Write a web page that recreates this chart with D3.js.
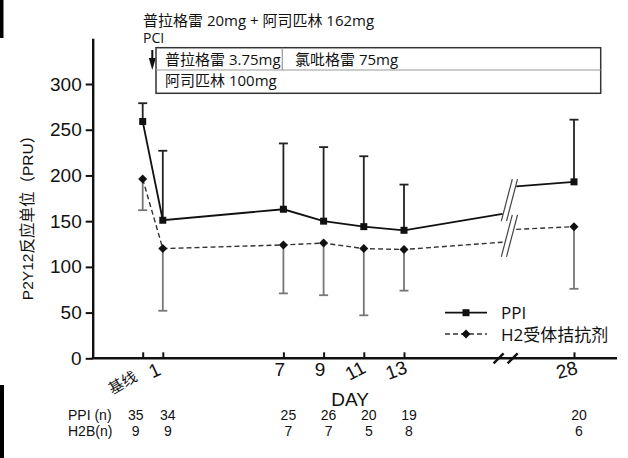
<!DOCTYPE html>
<html><head><meta charset="utf-8">
<script src="https://cdn.jsdelivr.net/npm/d3@7"></script>
<style>
html,body{margin:0;padding:0;background:#fff;}
svg{display:block;}
text{fill:#111;}
</style></head>
<body>
<svg id="chart" width="628" height="458"></svg>
<script>
// ---------- data ----------
const days = [0, 1, 7, 9, 11, 13, 28];
const dayLabels = ["基线", "1", "7", "9", "11", "13", "28"];
const ppiMean  = [259, 151, 163, 150, 144, 140, 193];
const ppiUpper = [279, 227, 235, 231, 221, 190, 261];
const h2Mean   = [196, 120, 124, 126, 120, 119, 144];
const h2Lower  = [162, 52, 71, 69, 47, 74, 76];
// values of each line where it meets the axis break (left end, right start)
const ppiBreak = [158, 188];
const h2Break  = [127, 141];
const ppiN = [35, 34, 25, 26, 20, 19, 20];
const h2bN = [9, 9, 7, 7, 5, 8, 6];
const yTicks = [0, 50, 100, 150, 200, 250, 300];
const seriesNames = ["PPI", "H2受体拮抗剂"];

// ---------- layout ----------
const svg = d3.select("#chart");
const latin = "'Liberation Sans', Arial, 'Noto Sans CJK SC', sans-serif";
const cjk = "'Open Sans', 'Noto Sans CJK SC', sans-serif";
const axisX0 = 92.7, axisXEnd = 617;
const breakStart = 21.7, breakEnd = 22.9;   // positions (in day units) of the scale break

const x = d3.scaleLinear().domain([0, 13, 28]).range([142.7, 404, 574]);
const y = d3.scaleLinear().domain([0, 350]).range([358.3, 38.3]);

// stray scan edges
svg.append("rect").attr("x", 0).attr("y", 0).attr("width", 3.5).attr("height", 38).attr("fill", "#000");
svg.append("rect").attr("x", 0).attr("y", 385).attr("width", 4).attr("height", 73).attr("fill", "#000");

// ---------- y axis ----------
const yAxis = d3.axisLeft(y).tickValues(yTicks).tickSizeInner(7).tickSizeOuter(0).tickPadding(4);
const gy = svg.append("g").attr("transform", `translate(${axisX0},0)`).call(yAxis);
gy.select(".domain").attr("stroke", "#111").attr("stroke-width", 2.4);
gy.selectAll(".tick line").attr("stroke", "#111").attr("stroke-width", 2);
gy.selectAll(".tick text").attr("font-family", latin).attr("font-size", 19).attr("fill", "#222");

svg.append("text")
  .attr("transform", "translate(33,214) rotate(-90)")
  .attr("text-anchor", "middle")
  .attr("font-family", latin).attr("font-size", 15.5).attr("fill", "#222")
  .text("P2Y12反应单位（PRU）");

// ---------- x axis ----------
const xAxis = d3.axisBottom(x).tickValues(days).tickSizeInner(-6).tickSizeOuter(0)
  .tickFormat((d, i) => dayLabels[i]);
const gx = svg.append("g").attr("transform", `translate(0,${y(0)})`).call(xAxis);
gx.select(".domain").remove();
gx.selectAll(".tick line").attr("stroke", "#111").attr("stroke-width", 2);
const rot = {0: -30, 1: -25, 7: 0, 9: 0, 11: -28, 13: -20, 28: -15};
gx.selectAll(".tick text")
  .attr("font-family", latin).attr("fill", "#222")
  .attr("font-size", d => d === 0 ? 15 : 19)
  .attr("y", null).attr("dy", null)
  .attr("text-anchor", "middle")
  .attr("transform", d => d === 0
      ? `translate(-18,29) rotate(${rot[d]})`
      : `translate(${d === 7 || d === 9 ? -4 : -6},18) rotate(${rot[d]})`);

svg.append("line").attr("x1", axisX0 - 1).attr("x2", axisXEnd).attr("y1", y(0)).attr("y2", y(0))
  .attr("stroke", "#111").attr("stroke-width", 2.4);
// axis break slashes
[x(breakStart) - 4, x(breakStart) + 10].forEach(cx => {
  svg.append("line").attr("x1", cx - 5).attr("y1", y(0) + 5).attr("x2", cx + 5).attr("y2", y(0) - 5)
    .attr("stroke", "#111").attr("stroke-width", 2.4);
});

svg.append("text").attr("x", 350).attr("y", 406).attr("text-anchor", "middle")
  .attr("font-family", latin).attr("font-size", 19).attr("fill", "#222").text("DAY");

// ---------- n rows ----------
const row1 = 420, row2 = 436;
svg.append("text").attr("x", 68).attr("y", row1).attr("font-family", latin).attr("font-size", 14).attr("fill", "#222").text("PPI (n)");
svg.append("text").attr("x", 68).attr("y", row2).attr("font-family", latin).attr("font-size", 14).attr("fill", "#222").text("H2B(n)");
const nOff = d => d === 0 ? -7 : 5;
svg.append("g").selectAll("text").data(days).join("text")
  .attr("x", (d) => x(d) + nOff(d)).attr("y", row1).attr("text-anchor", "middle")
  .attr("font-family", latin).attr("font-size", 14).attr("fill", "#222")
  .text((d, i) => ppiN[i]);
svg.append("g").selectAll("text").data(days).join("text")
  .attr("x", (d) => x(d) + nOff(d)).attr("y", row2).attr("text-anchor", "middle")
  .attr("font-family", latin).attr("font-size", 14).attr("fill", "#222")
  .text((d, i) => h2bN[i]);

// ---------- series ----------
const line = d3.line().x(d => x(d[0])).y(d => y(d[1]));
function seriesPts(mean, brk) {
  const left = days.slice(0, 6).map((d, i) => [d, mean[i]]);
  left.push([breakStart, brk[0]]);
  const right = [[breakEnd, brk[1]], [28, mean[6]]];
  return [left, right];
}
const ppiSegs = seriesPts(ppiMean, ppiBreak);
const h2Segs = seriesPts(h2Mean, h2Break);

// error bars
const cap = 4.5;
const eb = svg.append("g");
days.forEach((d, i) => {
  const cx = x(d);
  eb.append("line").attr("x1", cx).attr("x2", cx).attr("y1", y(h2Mean[i])).attr("y2", y(h2Lower[i]))
    .attr("stroke", "#777").attr("stroke-width", 1.8);
  eb.append("line").attr("x1", cx - cap).attr("x2", cx + cap).attr("y1", y(h2Lower[i])).attr("y2", y(h2Lower[i]))
    .attr("stroke", "#777").attr("stroke-width", 1.8);
  eb.append("line").attr("x1", cx).attr("x2", cx).attr("y1", y(ppiMean[i])).attr("y2", y(ppiUpper[i]))
    .attr("stroke", "#222").attr("stroke-width", 1.8);
  eb.append("line").attr("x1", cx - cap).attr("x2", cx + cap).attr("y1", y(ppiUpper[i])).attr("y2", y(ppiUpper[i]))
    .attr("stroke", "#222").attr("stroke-width", 1.8);
});

h2Segs.forEach(s => svg.append("path").attr("d", line(s)).attr("fill", "none")
  .attr("stroke", "#333").attr("stroke-width", 1.4).attr("stroke-dasharray", "5,3"));
ppiSegs.forEach(s => svg.append("path").attr("d", line(s)).attr("fill", "none")
  .attr("stroke", "#111").attr("stroke-width", 1.8));

// line break marks
function breakMarks(brk) {
  const xm = (x(breakStart) + x(breakEnd)) / 2;
  const ym = (y(brk[0]) + y(brk[1])) / 2;
  [-2.6, 2.6].forEach(o => {
    svg.append("line").attr("x1", xm + o - 5.5).attr("y1", ym + 21).attr("x2", xm + o + 5.5).attr("y2", ym - 21)
      .attr("stroke", "#444").attr("stroke-width", 1.2);
  });
}
breakMarks(ppiBreak);
breakMarks(h2Break);

const diamond = d3.symbol().type(d3.symbolDiamond2).size(52);
svg.append("g").selectAll("path").data(days).join("path")
  .attr("d", diamond).attr("transform", (d, i) => `translate(${x(d)},${y(h2Mean[i])})`)
  .attr("fill", "#111");
svg.append("g").selectAll("rect").data(days).join("rect")
  .attr("x", d => x(d) - 3.5).attr("y", (d, i) => y(ppiMean[i]) - 3.5)
  .attr("width", 7).attr("height", 7).attr("fill", "#111");

// ---------- legend ----------
const lg = svg.append("g");
lg.append("line").attr("x1", 445).attr("x2", 487).attr("y1", 312.7).attr("y2", 312.7).attr("stroke", "#111").attr("stroke-width", 1.8);
lg.append("rect").attr("x", 466 - 3.5).attr("y", 312.7 - 3.5).attr("width", 7).attr("height", 7).attr("fill", "#111");
lg.append("line").attr("x1", 445).attr("x2", 487).attr("y1", 334).attr("y2", 334).attr("stroke", "#333").attr("stroke-width", 1.4).attr("stroke-dasharray", "5,3");
lg.append("path").attr("d", diamond).attr("transform", "translate(466,334)").attr("fill", "#111");
lg.append("text").attr("x", 501).attr("y", 318.5).attr("font-family", cjk).attr("font-size", 17).attr("fill", "#222").text(seriesNames[0]);
lg.append("text").attr("x", 501).attr("y", 340.5).attr("font-family", cjk).attr("font-size", 17).attr("fill", "#222").text(seriesNames[1]);

// ---------- header annotation ----------
const hd = svg.append("g");
hd.append("text").attr("x", 143).attr("y", 25.5).attr("font-family", cjk).attr("font-size", 15).attr("fill", "#222")
  .text("普拉格雷 20mg + 阿司匹林 162mg");
hd.append("text").attr("x", 143).attr("y", 43).attr("font-family", cjk).attr("font-size", 14).attr("fill", "#222").text("PCI");
hd.append("line").attr("x1", 152.3).attr("x2", 152.3).attr("y1", 50).attr("y2", 62).attr("stroke", "#111").attr("stroke-width", 2);
hd.append("path").attr("d", "M148.8,58 L155.8,58 L152.3,70 Z").attr("fill", "#111");
hd.append("rect").attr("x", 156).attr("y", 47.7).attr("width", 444.7).attr("height", 45.6)
  .attr("fill", "none").attr("stroke", "#333").attr("stroke-width", 1.5);
hd.append("line").attr("x1", 156).attr("x2", 600.7).attr("y1", 70).attr("y2", 70).attr("stroke", "#999").attr("stroke-width", 1.2);
hd.append("line").attr("x1", 282.3).attr("x2", 282.3).attr("y1", 47.7).attr("y2", 70).attr("stroke", "#999").attr("stroke-width", 1.2);
hd.append("text").attr("x", 165).attr("y", 65).attr("font-family", cjk).attr("font-size", 15).attr("fill", "#222").text("普拉格雷 3.75mg");
hd.append("text").attr("x", 295).attr("y", 65).attr("font-family", cjk).attr("font-size", 15).attr("fill", "#222").text("氯吡格雷 75mg");
hd.append("text").attr("x", 165).attr("y", 86).attr("font-family", cjk).attr("font-size", 15).attr("fill", "#222").text("阿司匹林 100mg");
</script>
</body></html>
